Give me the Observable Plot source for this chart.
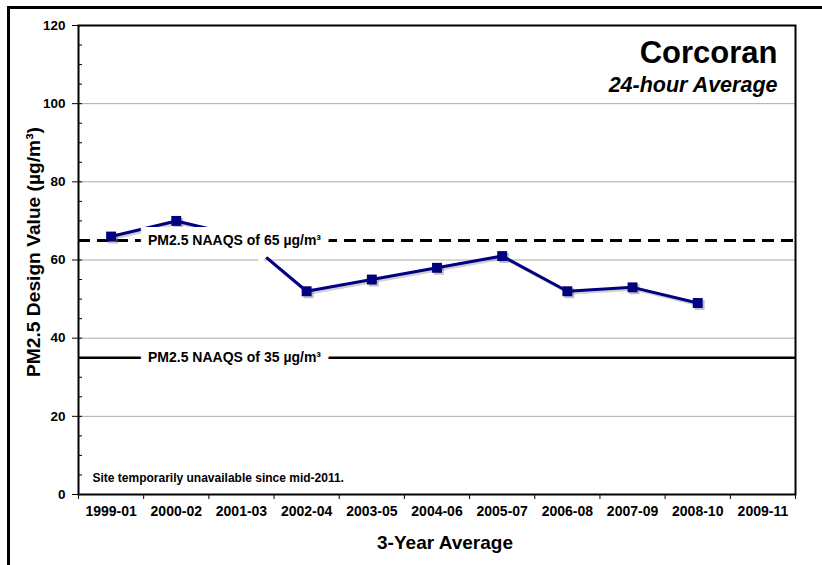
<!DOCTYPE html>
<html>
<head>
<meta charset="utf-8">
<script src="https://cdn.jsdelivr.net/npm/d3@7"></script>
<script src="https://cdn.jsdelivr.net/npm/@observablehq/plot@0.6"></script>
<style>
  html, body { margin: 0; padding: 0; background: #fff; }
  #wrap { position: relative; width: 822px; height: 565px; overflow: hidden; }
  #outer { position: absolute; left: 7px; top: 6px; width: 900px; height: 700px;
           border-top: 3px solid #000; border-left: 3px solid #000; pointer-events: none; }
  svg { font-family: "Liberation Sans", Arial, sans-serif; }
</style>
</head>
<body>
<div id="wrap"><div id="outer"></div></div>
<script>
// ---- data ----
const categories = ["1999-01", "2000-02", "2001-03", "2002-04", "2003-05", "2004-06",
                    "2005-07", "2006-08", "2007-09", "2008-10", "2009-11"];
const designValues = [66, 70, 66, 52, 55, 58, 61, 52, 53, 49, null];
const yTicks = [0, 20, 40, 60, 80, 100, 120];
const yGrid = [20, 40, 60, 80, 100];
const yMinor = d3.range(0, 121, 5);
const naaqsValues = [65, 35];
const naaqsLabels = ["PM2.5 NAAQS of 65 µg/m³", "PM2.5 NAAQS of 35 µg/m³"];
const titleText = "Corcoran";
const subtitleText = "24-hour Average";
const yLabel = "PM2.5 Design Value (µg/m³)";
const xLabel = "3-Year Average";
const noteText = "Site temporarily unavailable since mid-2011.";

const series = categories.map((c, i) => ({cat: c, i, value: designValues[i]}));
const naaqs = naaqsValues.map((v, i) => ({value: v, label: naaqsLabels[i]}));
const valid = series.filter(d => d.value != null);

const navy = "#000080";

const chart = Plot.plot({
  width: 822,
  height: 565,
  marginLeft: 78,
  marginTop: 25,
  marginRight: 27,
  marginBottom: 71,
  style: {fontFamily: "'Liberation Sans', Arial, sans-serif", background: "transparent"},
  x: {type: "linear", domain: [0, categories.length], label: null},
  y: {domain: [0, 120], label: null},
  marks: [
    Plot.gridY(yGrid, {stroke: "#aaaaaa", strokeOpacity: 1, strokeWidth: 1}),
    // NAAQS reference lines
    Plot.ruleY(naaqs.filter(d => d.value === 35), {y: "value", stroke: "#000", strokeWidth: 2.5}),
    Plot.ruleY(naaqs.filter(d => d.value === 65), {y: "value", stroke: "#000", strokeWidth: 3, strokeDasharray: "12,7"}),
    // shadow
    Plot.line(valid, {x: d => d.i + 0.5, y: "value", stroke: "#777", strokeOpacity: 0.35, strokeWidth: 3, dx: 2, dy: 2}),
    Plot.dot(valid, {x: d => d.i + 0.5, y: "value", symbol: "square", r: 5.6, fill: "#777", fillOpacity: 0.45, stroke: null, dx: 2, dy: 2}),
    // data
    Plot.line(valid, {x: d => d.i + 0.5, y: "value", stroke: navy, strokeWidth: 3}),
    Plot.dot(valid, {x: d => d.i + 0.5, y: "value", symbol: "square", r: 5.6, fill: navy, stroke: null}),
    // NAAQS labels with white box-like halo
    Plot.text(naaqs, {y: "value", text: "label", frameAnchor: "left", dx: 156, textAnchor: "middle",
      fontSize: 14, fontWeight: "bold", fill: "#000", stroke: "#fff", strokeWidth: 16,
      strokeLinejoin: "miter", paintOrder: "stroke"}),
    // frame
    Plot.frame({stroke: "#000", strokeWidth: 2}),
    // axes
    Plot.axisY({ticks: yTicks, tickSize: 6, tickPadding: 7, fontSize: 13.5, fontWeight: "bold", label: null}),
    Plot.axisY({ticks: yMinor, tickSize: 4, dx: 4, tickFormat: () => "", label: null}),
    Plot.axisX({ticks: d3.range(categories.length + 1), tickSize: 5, tickFormat: () => "", label: null}),
    Plot.axisX({ticks: categories.map((c, i) => i + 0.5), tickSize: 0, tickPadding: 12,
      tickFormat: v => categories[Math.floor(v)], fontSize: 14, fontWeight: "bold", label: null}),
    // titles
    Plot.text([titleText], {frameAnchor: "top-right", dx: -18, dy: 37, lineAnchor: "bottom", textAnchor: "end",
      fontSize: 31, fontWeight: "bold", fill: "#000"}),
    Plot.text([subtitleText], {frameAnchor: "top-right", dx: -18, dy: 66, lineAnchor: "bottom", textAnchor: "end",
      fontSize: 21.5, fontWeight: "bold", fontStyle: "italic", fill: "#000"}),
    Plot.text([noteText], {frameAnchor: "bottom-left", dx: 14, dy: -13, lineAnchor: "bottom", textAnchor: "start",
      fontSize: 12, fontWeight: "bold", fill: "#000"}),
    Plot.text([yLabel], {frameAnchor: "left", dx: -45, dy: -8, rotate: -90, textAnchor: "middle", lineAnchor: "middle",
      fontSize: 19.2, fontWeight: "bold", fill: "#000"}),
    Plot.text([xLabel], {frameAnchor: "bottom", dx: 8, dy: 54, lineAnchor: "bottom", textAnchor: "middle",
      fontSize: 19, fontWeight: "bold", fill: "#000"})
  ]
});
chart.style.position = "absolute";
chart.style.left = "0px";
chart.style.top = "0px";
document.getElementById("wrap").prepend(chart);
</script>
</body>
</html>
